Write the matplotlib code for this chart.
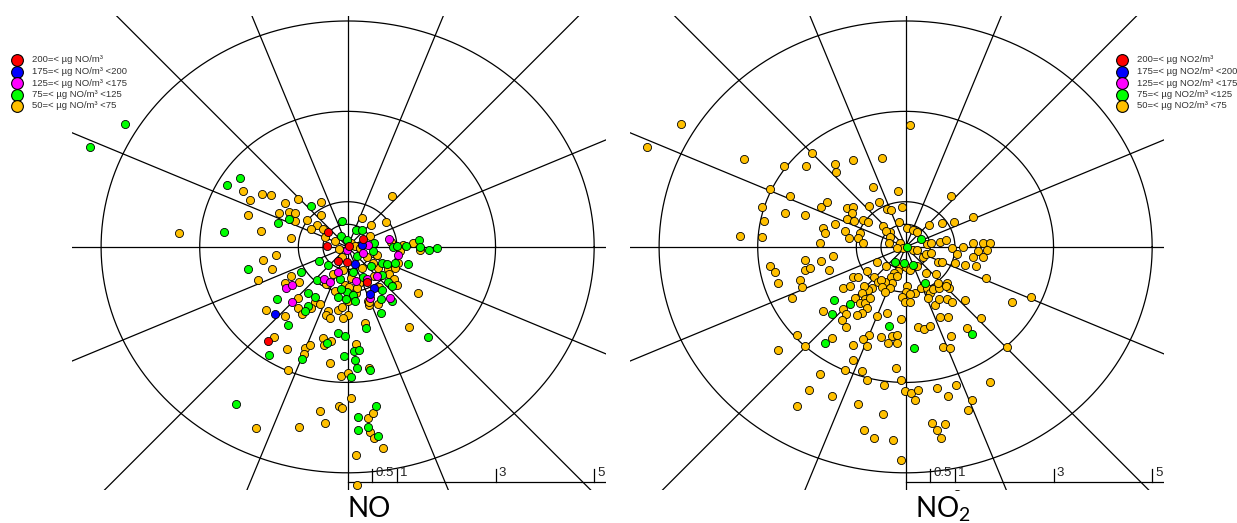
import numpy as np
import matplotlib.pyplot as plt

# wind vector (east, north) in m/s for each hour, split by concentration class
no_200 = [(-0.39, 0.32), (-0.42, 0.01), (0.03, 0.01), (0.32, 0.18), (-0.02, -0.34),
          (-0.20, -0.31), (0.40, -0.77), (-1.62, -2.09)]
no_175 = [(0.30, 0.05), (0.15, -0.38), (0.53, -0.90), (0.46, -1.04), (-1.47, -1.48)]
no_125 = [(-0.02, -0.06), (0.42, 0.04), (0.32, -0.13), (0.84, 0.18), (1.03, -0.17),
          (-0.20, -0.55), (-0.48, -0.72), (-0.36, -0.78), (0.16, -0.76), (0.40, -0.71),
          (0.59, -0.65), (0.46, -1.12), (0.85, -1.14), (-1.26, -0.90), (-1.12, -0.85),
          (-1.12, -1.23)]
no_75 = [(-4.51, 2.72), (-5.22, 2.21), (-2.51, 0.32), (-2.45, 1.37), (-2.18, 1.53),
         (-0.74, 0.90), (-1.42, 0.52), (-1.19, 0.61), (-0.11, 0.57), (-0.14, 0.24),
         (-0.01, 0.16), (0.16, 0.38), (0.30, 0.38), (0.53, 0.08), (0.20, -0.21),
         (0.51, -0.09), (0.92, -0.01), (1.00, 0.01), (1.18, 0.01), (1.45, 0.16),
         (1.46, 0.0), (1.65, -0.06), (1.82, -0.03), (1.22, -0.38), (0.70, -0.35),
         (0.80, -0.37), (0.96, -0.35), (0.48, -0.43), (-0.39, -0.40), (-0.58, -0.32),
         (-2.02, -0.49), (-0.94, -0.56), (-0.62, -0.74), (-0.16, -0.72), (0.10, -0.56),
         (0.32, -0.67), (0.70, -0.62), (0.82, -0.78), (0.90, -0.86), (0.69, -0.96),
         (0.68, -1.15), (0.90, -1.20), (0.68, -1.46), (1.63, -2.00), (-1.43, -1.16),
         (-1.21, -1.73), (-0.80, -1.03), (-0.67, -1.10), (-0.81, -1.31), (-0.86, -1.41),
         (-0.20, -1.10), (-0.02, -1.00), (-0.14, -0.93), (0.10, -1.07), (-0.04, -1.15),
         (0.14, -1.19), (-1.59, -2.39), (-0.93, -2.47), (-0.42, -2.12), (-0.19, -1.91),
         (-0.06, -1.98), (0.06, -2.88), (-0.07, -2.41), (0.13, -2.30), (0.23, -2.28),
         (0.14, -2.51), (0.20, -2.67), (0.46, -2.73), (0.37, -1.80), (-2.26, -3.48),
         (0.22, -3.76), (0.58, -3.51), (0.42, -3.98), (0.22, -4.06), (0.61, -4.19)]
no_50 = [(-3.42, 0.30), (-1.75, 0.35), (-2.12, 1.23), (-1.98, 1.04), (-1.74, 1.18),
         (-1.56, 1.14), (-2.03, 0.70), (-1.28, 0.98), (-1.01, 1.06), (-0.54, 0.99),
         (-1.40, 0.75), (-1.19, 0.77), (-1.07, 0.76), (-1.06, 0.57), (-0.83, 0.60),
         (-0.62, 0.49), (-0.55, 0.71), (-0.75, 0.40), (-1.14, 0.19), (-0.50, 0.40),
         (0.30, 0.64), (0.48, 0.49), (0.78, 0.54), (0.91, 1.12), (-0.46, 0.21),
         (-0.26, 0.12), (-0.18, -0.04), (0.06, 0.09), (0.46, 0.24), (0.14, 0.01),
         (0.25, -0.02), (0.40, -0.23), (0.60, -0.18), (0.88, 0.10), (1.12, 0.04),
         (1.33, 0.08), (1.46, -0.07), (1.06, -0.08), (1.03, -0.35), (0.61, -0.47),
         (0.51, -0.35), (0.81, -0.49), (0.96, -0.47), (0.29, -0.47), (-0.11, -0.23),
         (-1.71, -0.29), (-1.46, -0.18), (-1.54, -0.49), (-1.81, -0.73), (-1.14, -0.64),
         (-1.28, -0.79), (-0.43, -0.81), (-0.30, -0.59), (-0.10, -0.51), (0.06, -0.68),
         (0.24, -0.79), (0.54, -0.65), (0.84, -0.59), (0.94, -0.72), (1.00, -0.85),
         (0.88, -0.85), (0.64, -0.88), (0.62, -1.27), (0.43, -1.29), (0.42, -1.20),
         (1.42, -1.02), (1.25, -1.78), (-0.98, -0.78), (-1.66, -1.39), (-1.28, -1.53),
         (-1.01, -1.13), (-0.66, -1.21), (-0.56, -1.27), (-1.01, -1.35), (-0.93, -1.49),
         (-0.74, -1.35), (-0.40, -1.42), (-0.43, -1.51), (-0.35, -1.57), (-0.19, -1.40),
         (-0.11, -1.34), (0.0, -1.50), (-0.09, -1.58), (-0.26, -0.98), (-0.06, -0.85),
         (0.02, -0.88), (0.16, -1.01), (0.0, -1.20), (0.20, -0.92), (0.44, -1.23),
         (-1.49, -1.99), (-1.23, -2.25), (-0.86, -2.23), (-0.77, -2.17), (-0.88, -2.38),
         (-1.21, -2.73), (-0.35, -2.56), (-0.50, -2.01), (-0.48, -2.17), (-0.34, -2.08),
         (-0.14, -2.86), (0.0, -2.79), (0.16, -2.14), (0.44, -2.68), (0.36, -1.68),
         (-1.85, -4.00), (-0.98, -3.98), (-0.56, -3.64), (-0.46, -3.90), (-0.18, -3.51),
         (-0.11, -3.56), (0.06, -3.34), (0.41, -3.79), (0.52, -3.68), (0.45, -4.09),
         (0.53, -4.24), (0.71, -4.45), (0.17, -4.61), (0.20, -5.28)]

no2_200 = []
no2_175 = []
no2_125 = []
no2_75 = [(0.31, 0.18), (0.03, 0.0), (-0.22, -0.33), (-0.03, -0.35), (0.15, -0.40),
          (0.39, -0.80), (-1.45, -1.17), (-1.13, -1.26), (-1.50, -1.48), (-0.34, -1.75),
          (1.34, -1.92), (-1.64, -2.12), (0.17, -2.23)]
no2_50 = [(-4.56, 2.72), (-5.25, 2.21), (0.09, 2.70), (-3.28, 1.95), (-2.47, 1.79),
          (-2.75, 1.28), (-2.03, 1.79), (-1.90, 2.08), (-1.43, 1.84), (-1.42, 1.66),
          (-1.07, 1.92), (-0.48, 1.97), (-0.66, 1.33), (-0.16, 1.24), (0.92, 1.13),
          (-1.72, 0.88), (-1.60, 1.00), (-1.19, 0.86), (-1.07, 0.88), (-1.09, 0.75),
          (-0.74, 0.91), (-0.54, 1.00), (-2.05, 0.71), (-1.43, 0.51), (-1.19, 0.62),
          (-1.05, 0.58), (-0.87, 0.60), (-0.76, 0.55), (-0.38, 0.84), (-0.30, 0.82),
          (-0.08, 0.88), (-0.14, 0.55), (1.36, 0.66), (0.98, 0.55), (0.74, 0.53),
          (0.47, 0.49), (-0.46, 0.46), (-0.32, 0.33), (-0.40, 0.35), (0.03, 0.42),
          (0.15, 0.38), (0.23, 0.33), (-1.68, 0.42), (-1.64, 0.31), (-1.23, 0.35),
          (-1.15, 0.20), (-0.93, 0.31), (-0.97, 0.20), (-0.87, 0.09), (-1.74, 0.09),
          (-0.32, 0.22), (-0.34, 0.09), (-0.12, 0.09), (0.15, -0.07), (-0.05, -0.02),
          (-0.18, -0.02), (0.43, 0.07), (0.51, 0.09), (0.70, 0.11), (0.82, 0.15),
          (0.94, -0.02), (1.16, 0.0), (1.36, 0.09), (1.57, 0.09), (1.71, 0.09),
          (1.47, -0.09), (1.65, -0.07), (1.04, -0.15), (1.36, -0.22), (1.57, -0.22),
          (0.23, -0.07), (0.35, -0.22), (0.41, -0.15), (0.51, -0.13), (0.66, -0.33),
          (0.74, -0.33), (1.00, -0.35), (1.20, -0.40), (1.43, -0.42), (1.63, -0.69),
          (2.16, -1.22), (-2.04, -0.29), (-1.72, -0.31), (-1.48, -0.20), (-2.04, -0.51),
          (-1.94, -0.46), (-1.56, -0.51), (-0.58, -0.33), (-0.40, -0.42), (-0.12, -0.44),
          (0.01, -0.44), (0.09, -0.51), (0.23, -0.42), (0.41, -0.58), (0.61, -0.60),
          (-0.16, -0.53), (-0.24, -0.58), (-0.30, -0.66), (-0.18, -0.64), (-0.64, -0.66),
          (-0.79, -0.53), (-0.28, -0.80), (-0.56, -0.77), (-0.42, -0.77), (-0.50, -0.73),
          (-0.48, -0.88), (-0.32, -0.91), (-0.42, -1.00), (-0.68, -0.91), (-0.76, -0.95),
          (-0.85, -0.86), (-0.89, -1.02), (-0.83, -1.15), (-1.07, -0.66), (-0.97, -0.66),
          (-1.27, -0.91), (-1.13, -0.86), (-2.14, -0.73), (-2.10, -0.88), (0.03, -0.86),
          (0.19, -1.02), (0.01, -1.00), (-0.08, -1.11), (-0.01, -1.22), (0.09, -1.22),
          (0.09, -1.04), (0.31, -0.91), (0.43, -0.91), (0.49, -1.02), (0.45, -1.13),
          (0.55, -0.93), (0.67, -0.91), (0.84, -0.80), (0.88, -0.91), (0.82, -0.86),
          (0.66, -0.80), (0.59, -1.28), (0.67, -1.15), (0.84, -1.15), (0.94, -1.22),
          (1.20, -1.17), (0.70, -1.55), (0.86, -1.55), (1.53, -1.57), (-1.68, -1.42),
          (-1.27, -1.37), (-1.21, -1.48), (-1.03, -1.13), (-0.93, -1.24), (-0.83, -1.24),
          (-0.72, -1.13), (-0.79, -1.35), (-0.89, -1.46), (-0.99, -1.50), (-0.58, -1.53),
          (-0.38, -1.46), (-0.10, -1.59), (0.25, -1.77), (0.37, -1.81), (0.49, -1.75),
          (1.24, -1.79), (0.92, -1.97), (-1.30, -1.61), (-1.21, -1.77), (-0.74, -1.95),
          (-0.50, -1.99), (-0.28, -1.97), (-0.18, -1.95), (-0.36, -2.12), (-0.18, -2.12),
          (-0.87, -2.04), (-1.07, -2.17), (-0.79, -2.19), (-1.50, -2.01), (-2.04, -2.19),
          (0.76, -2.21), (0.90, -2.23), (2.05, -2.21),
          (-2.92, 0.88), (-2.88, 0.58), (-3.36, 0.24), (-2.92, 0.22), (-2.35, 1.13),
          (-2.45, 0.75), (-2.75, -0.42), (-2.65, -0.55), (-2.59, -0.80), (-2.31, -1.13),
          (-2.21, -1.95), (-2.59, -2.28), (-2.21, -3.52), (-1.96, -3.16), (-1.74, -2.81),
          (-1.50, -3.30), (-1.23, -2.72), (-1.07, -2.50), (-0.79, -2.94), (-0.44, -3.05),
          (-0.20, -2.68), (-0.10, -2.94), (-0.01, -3.19), (0.11, -3.23), (0.19, -3.38),
          (0.25, -3.16), (-0.46, -3.69), (-0.97, -3.47), (-0.85, -4.05), (-0.64, -4.22),
          (-0.26, -4.27), (-0.10, -4.71), (0.53, -3.89), (0.63, -4.05), (0.71, -4.22),
          (0.80, -3.92), (0.86, -3.30), (0.63, -3.12), (1.02, -3.05), (1.34, -3.38),
          (1.71, -2.99), (1.26, -3.61), (1.04, -5.46), (2.54, -1.11), (-0.89, -2.74)]

ring_speeds = [0.5, 1, 3, 5]
tick_speeds = [0.5, 1, 3, 5]
tick_labels = ['0.5', '1', '3', '5']

colors = ['#FF0000', '#0000FF', '#FF00FF', '#00FF00', '#FFC000']
no_labels = ['200=< µg NO/m³', '175=< µg NO/m³ <200', '125=< µg NO/m³ <175',
             '75=< µg NO/m³ <125', '50=< µg NO/m³ <75']
no2_labels = [s.replace('NO/', 'NO2/') for s in no_labels]

W, H = 1237, 523
fig = plt.figure(figsize=(W / 100, H / 100), dpi=100)
plt.rcParams['font.family'] = ['Liberation Sans', 'DejaVu Sans']

xlim = (-5.59, 5.24)
ylim = (-5.38, 5.11)


def rose(ax, classes):
    ax.set_xlim(*xlim)
    ax.set_ylim(*ylim)
    ax.axis('off')
    pos = ax.get_position()
    # px per unit in x and y; rays are drawn at equal angles on screen
    kx = pos.width * W / (xlim[1] - xlim[0])
    ky = pos.height * H / (ylim[1] - ylim[0])
    t = np.linspace(0, 2 * np.pi, 400)
    for r in ring_speeds:
        ax.plot(r * np.cos(t), r * np.sin(t), color='black', lw=0.9, zorder=1)
    for a in np.arange(0, 360, 22.5):
        a = np.radians(a)
        ax.plot([0, 12 * np.cos(a)], [0, 12 * np.sin(a) * kx / ky],
                color='black', lw=0.9, zorder=1)
    # speed scale under the rose
    yb = -5.2
    ax.plot([0, xlim[1]], [yb, yb], color='black', lw=0.9, zorder=1)
    for s, lab in zip(tick_speeds, tick_labels):
        ax.plot([s, s], [yb, yb + 0.29], color='black', lw=0.9, zorder=1)
        ax.text(s + 0.06, yb + 0.07, lab, fontsize=9.5, color='#222222',
                ha='left', va='bottom')
    for pts, c in zip(classes[::-1], colors[::-1]):
        if len(pts) == 0:
            continue
        p = np.array(pts)
        ax.scatter(p[:, 0], p[:, 1], s=34, c=c, edgecolors='black',
                   linewidths=0.6, zorder=3)


ax1 = fig.add_axes([72 / W, 33 / H, 534 / W, 474 / H])
rose(ax1, [no_200, no_175, no_125, no_75, no_50])
ax2 = fig.add_axes([630 / W, 33 / H, 534 / W, 474 / H])
rose(ax2, [no2_200, no2_175, no2_125, no2_75, no2_50])

# legends and titles on a pixel overlay
ov = fig.add_axes([0, 0, 1, 1], zorder=5)
ov.set_xlim(0, W)
ov.set_ylim(H, 0)
ov.axis('off')
for x0, labels in [(17, no_labels), (1122, no2_labels)]:
    for i, (c, lab) in enumerate(zip(colors, labels)):
        y = 60 + i * 11.5
        ov.scatter([x0], [y], s=72, c=c, edgecolors='black', linewidths=0.8)
        ov.text(x0 + 15, y, lab, fontsize=6.8, color='#333333', va='center', ha='left')

ov.text(348, 517, 'NO', fontsize=20, family='Lato', va='baseline', ha='left')
ov.text(915, 517, 'NO$_\\mathregular{2}$', fontsize=20, family='Lato',
        va='baseline', ha='left')

fig.savefig('out.png', dpi=100)
